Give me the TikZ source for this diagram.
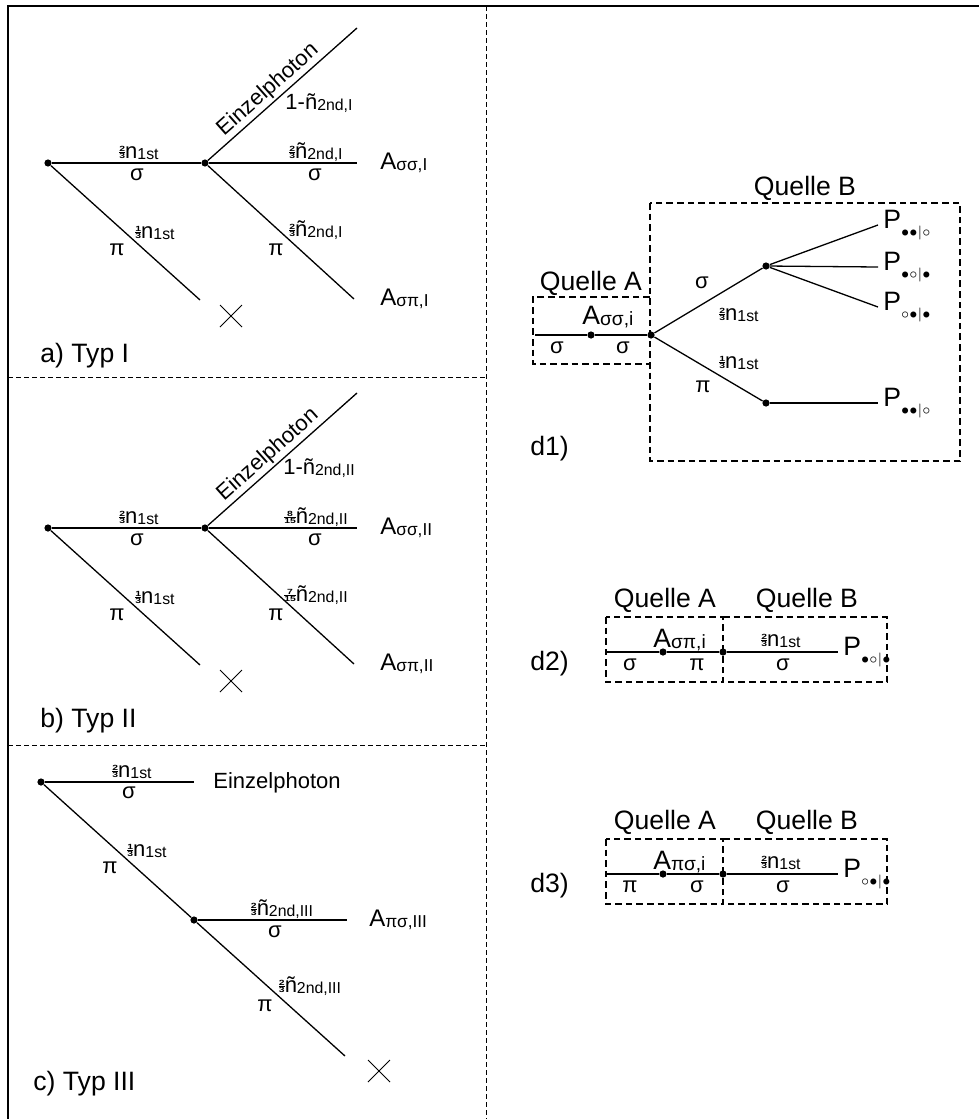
\documentclass[tikz,border=0pt]{standalone}
\usepackage{amsmath}
\usepackage{fontspec}
\setmainfont{Liberation Sans}
\usetikzlibrary{positioning,shapes.misc}

\newcommand{\fr}[2]{\scalebox{1}[0.72]{\fontsize{5.2}{5.2}\selectfont\bfseries%
  \vbox{\halign{\hfil##\hfil\cr#1\cr%
  \noalign{\kern0.35pt\hrule height0.4pt\kern0.35pt}#2\cr}}}}
\newcommand{\sub}[1]{\raisebox{-0.05em}{\scalebox{0.72}{#1}}}
\newcommand{\pidx}[1]{P\raisebox{-0.3em}{$\scriptscriptstyle#1$}}

\begin{document}
\begin{tikzpicture}[x=0.5pt,y=-0.5pt,
  font=\fontsize{11}{13}\selectfont,
  big/.style={font=\fontsize{13.3}{16}\selectfont},
  alab/.style={inner sep=0pt,font=\fontsize{12}{14}\selectfont},
  ln/.style={line width=0.65pt},
  dot/.style={circle,fill,inner sep=0pt,minimum size=3.6pt},
  lbl/.style={inner sep=0pt,anchor=base},
  tag/.style={inner sep=0pt,anchor=base west},
  trenn/.style={line width=0.5pt,dash pattern=on 2.4pt off 1.6pt},
  quelle/.style={line width=0.6pt,dash pattern=on 3.3pt off 2pt},
  kreuz/.style={cross out,draw,line width=0.5pt,minimum size=10.5pt,inner sep=0pt}
]
\useasboundingbox (0,0) rectangle (979,1119);
\draw[line width=1pt] (8,1119) |- (979,6);
\draw[trenn] (486,6) -- (486,1119);
\draw[trenn] (8,377) -- (486,377);
\draw[trenn] (8,745) -- (486,745);

% Typ I und Typ II
\foreach \oy/\ty/\kl/\fs/\fp in {0/I/a/{\fr23}/{\fr23},365/II/b/{\fr8{15}}/{\fr7{15}}}{
\begin{scope}[shift={(0,\oy)}]
\node[dot] (s\ty) at (48,163) {};
\node[dot] (t\ty) at (205,163) {};
\coordinate (v\ty) at (200,300);
\coordinate (e\ty) at (357,28);
\coordinate (h\ty) at (357,163);
\coordinate (d\ty) at (354,299);
\draw[ln] (s\ty) -- (t\ty);
\draw[ln] (s\ty) -- (v\ty);
\draw[ln] (t\ty) -- (e\ty) node[pos=0.46,sloped,above,inner sep=1pt] (ez\ty) {Einzelphoton};
\draw[ln] (t\ty) -- (h\ty);
\draw[ln] (t\ty) -- (d\ty);
\node[lbl] (n1\ty) at (139,158) {\fr23n\sub{1st}};
\node[lbl] (g1\ty) at (137,180) {σ};
\node[lbl] (n2\ty) at (155,238) {\fr13n\sub{1st}};
\node[lbl] (g2\ty) at (117,255) {π};
\node[lbl] (n3\ty) at (319,109) {1-ñ\sub{2nd,\ty}};
\node[lbl] (n4\ty) at (316,158) {\fs ñ\sub{2nd,\ty}};
\node[lbl] (g3\ty) at (315,180) {σ};
\node[lbl] (n5\ty) at (316,236) {\fp ñ\sub{2nd,\ty}};
\node[lbl] (g4\ty) at (276,255) {π};
\node[right=11.5pt of h\ty,alab] (ass\ty) {A\sub{σσ,\ty}};
\node[right=13pt of d\ty,alab] (asp\ty) {A\sub{σπ,\ty}};
\node[kreuz] (x\ty) at (231,316) {};
\node[tag,big] (typ\ty) at (40,362) {\kl) Typ \ty};
\end{scope}}

% Typ III
\node[dot] (c1) at (41,782) {};
\coordinate (c1e) at (194,782);
\node[dot] (c2) at (194,920) {};
\coordinate (c2e) at (347,920);
\coordinate (c3) at (345,1056);
\draw[ln] (c1) -- (c1e);
\draw[ln] (c1) -- (c2) -- (c3);
\draw[ln] (c2) -- (c2e);
\node[tag] (einz) at (213,788) {Einzelphoton};
\node[lbl] (cn1) at (132,777) {\fr23n\sub{1st}};
\node[lbl] (cg1) at (129,798) {σ};
\node[lbl] (cn2) at (147,856) {\fr13n\sub{1st}};
\node[lbl] (cg2) at (110,873) {π};
\node[lbl] (cn3) at (282,915) {\fr23ñ\sub{2nd,III}};
\node[lbl] (cg3) at (275,937) {σ};
\node[lbl] (cn4) at (310,992) {\fr23ñ\sub{2nd,III}};
\node[lbl] (cg4) at (265,1011) {π};
\node[right=11pt of c2e,alab] (aps) {A\sub{πσ,III}};
\node[kreuz] (xc) at (379,1071) {};
\node[tag,big] (typc) at (33,1090) {c) Typ III};

% d1
\draw[quelle] (650,297) -- (533,297) -- (533,364) -- (650,364);
\draw[quelle] (650,203) rectangle (960,461);
\coordinate (q0) at (535,335);
\node[dot] (qa) at (591,335) {};
\node[dot] (qb) at (651,335) {};
\node[dot] (ps) at (766,266) {};
\node[dot] (pp) at (766,403) {};
\coordinate (p1) at (878,225);
\coordinate (p2) at (878,267);
\coordinate (p3) at (878,307);
\coordinate (p4) at (878,403);
\draw[ln] (q0) -- (qa) -- (qb);
\draw[ln] (qb) -- (ps);
\draw[ln] (qb) -- (pp);
\foreach \i in {1,2,3} \draw[ln] (ps) -- (p\i);
\draw[ln] (pp) -- (p4);
\node[lbl,big] (qla) at (591,290) {Quelle A};
\node[lbl,big] (qlb) at (805,195) {Quelle B};
\node[tag,big] (ai) at (582,324) {A\sub{σσ,i}};
\node[lbl] (dg1) at (557,353) {σ};
\node[lbl] (dg2) at (623,353) {σ};
\node[lbl] (dg3) at (702,288) {σ};
\node[lbl] (dn1) at (739,320) {\fr23n\sub{1st}};
\node[lbl] (dn2) at (739,368) {\fr13n\sub{1st}};
\node[lbl] (dg4) at (703,392) {π};
\node[right=2.5pt of p1,inner sep=0pt,big] (P1) {\pidx{{\bullet}{\bullet}|{\circ}}};
\node[right=2.5pt of p2,inner sep=0pt,big] (P2) {\pidx{{\bullet}{\circ}|{\bullet}}};
\node[right=2.5pt of p3,inner sep=0pt,big] (P3) {\pidx{{\circ}{\bullet}|{\bullet}}};
\node[right=2.5pt of p4,inner sep=0pt,big] (P4) {\pidx{{\bullet}{\bullet}|{\circ}}};
\node[tag,big] (dl1) at (530,455) {d1)};

% d2 und d3
\foreach \oy/\ka/\kb/\nd/\pz in {0/σ/π/2/{\bullet}{\circ}|{\bullet},222/π/σ/3/{\circ}{\bullet}|{\bullet}}{
\begin{scope}[shift={(0,\oy)}]
\draw[quelle] (606,617) rectangle (723,682);
\draw[quelle] (723,617) -- (887,617) -- (887,682) -- (723,682);
\coordinate (r0\nd) at (607,652);
\node[dot] (ra\nd) at (663,652) {};
\node[dot] (rb\nd) at (723,652) {};
\coordinate (re\nd) at (838,652);
\draw[ln] (r0\nd) -- (ra\nd) -- (rb\nd) -- (re\nd);
\node[lbl,big] (rqa\nd) at (665,607) {Quelle A};
\node[lbl,big] (rqb\nd) at (807,607) {Quelle B};
\node[tag,big] (ra\nd l) at (653,647) {A\sub{\ka\kb,i}};
\node[lbl] (rg1\nd) at (630,670) {\ka};
\node[lbl] (rg2\nd) at (697,670) {\kb};
\node[lbl] (rn\nd) at (781,646) {\fr23n\sub{1st}};
\node[lbl] (rg3\nd) at (783,670) {σ};
\node[right=2.5pt of re\nd,inner sep=0pt,big] (rp\nd) {\pidx{\pz}};
\node[tag,big] (dl\nd) at (530,670) {d\nd)};
\end{scope}}
\end{tikzpicture}
\end{document}
